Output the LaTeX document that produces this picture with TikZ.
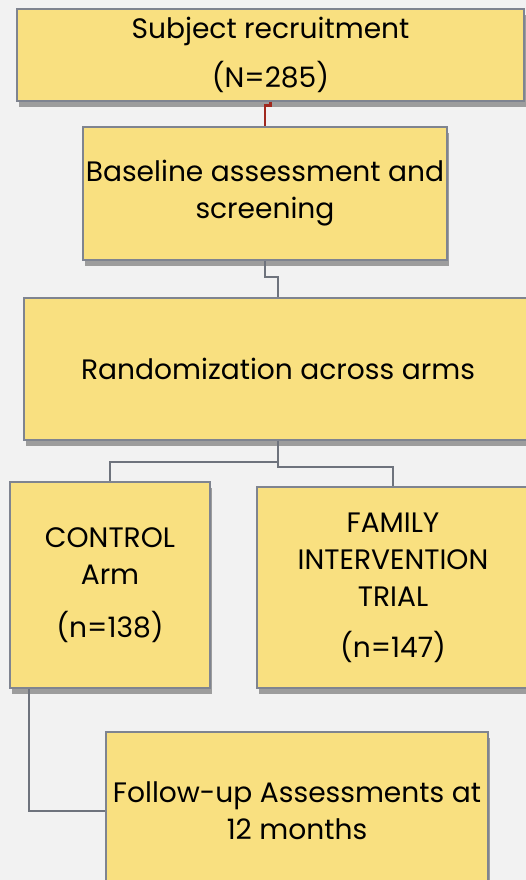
\documentclass[tikz,border=0pt]{standalone}
\usepackage{fontspec}
\setmainfont{Poppins}
\usetikzlibrary{shadows}
\definecolor{boxfill}{RGB}{249,224,128}
\definecolor{boxline}{RGB}{127,132,144}
\definecolor{linkgray}{RGB}{110,115,125}
\definecolor{linkred}{RGB}{160,40,30}
\definecolor{paper}{RGB}{242,242,242}
\begin{document}
\begin{tikzpicture}[x=0.02cm,y=-0.02cm,
  box/.style={draw=boxline, line width=1.1pt, fill=boxfill, inner sep=0pt, align=center,
    font=\fontsize{16}{21}\selectfont,
    drop shadow={shadow xshift=1pt, shadow yshift=-3.5pt, fill=black, opacity=0.35}},
  link/.style={draw=linkgray, line width=1.2pt}]
  \useasboundingbox (0,0) rectangle (526,880);
  \clip (0,0) rectangle (526,880);
  \fill[paper] (0,0) rectangle (526,880);
  \node[box, minimum width=10.14cm, minimum height=1.84cm] (S) at (270.5,55) {Subject recruitment\\[7pt](N=285)};
  \node[box, minimum width=7.28cm, minimum height=2.66cm] (B) at (265,193.5) {Baseline assessment and\\screening};
  \node[box, minimum width=10.16cm, minimum height=2.84cm] (R) at (278,369) {Randomization across arms};
  \node[box, minimum width=4cm, minimum height=4.12cm] (C) at (110,585) {CONTROL\\Arm\\[9pt](n=138)};
  \node[box, minimum width=5.44cm, minimum height=4.02cm] (F) at (393,587.5) {FAMILY\\INTERVENTION\\TRIAL\\[8pt](n=147)};
  \node[box, minimum width=7.64cm, minimum height=3.16cm] (U) at (297,811) {Follow-up Assessments at\\12 months};
  \draw[link, draw=linkred, line width=1.7pt] (S.south) -- ++(0,4) -| (B.north);
  \draw[link] (B.south) -- ++(0,16) -| (R.north);
  \draw[link] (R.south) -- ++(0,21) -| (C.north);
  \draw[link] (R.south) -- ++(0,26) -| (F.north);
  \draw[link] ([xshift=0.4cm]C.south west) |- (U.west);
\end{tikzpicture}
\end{document}
